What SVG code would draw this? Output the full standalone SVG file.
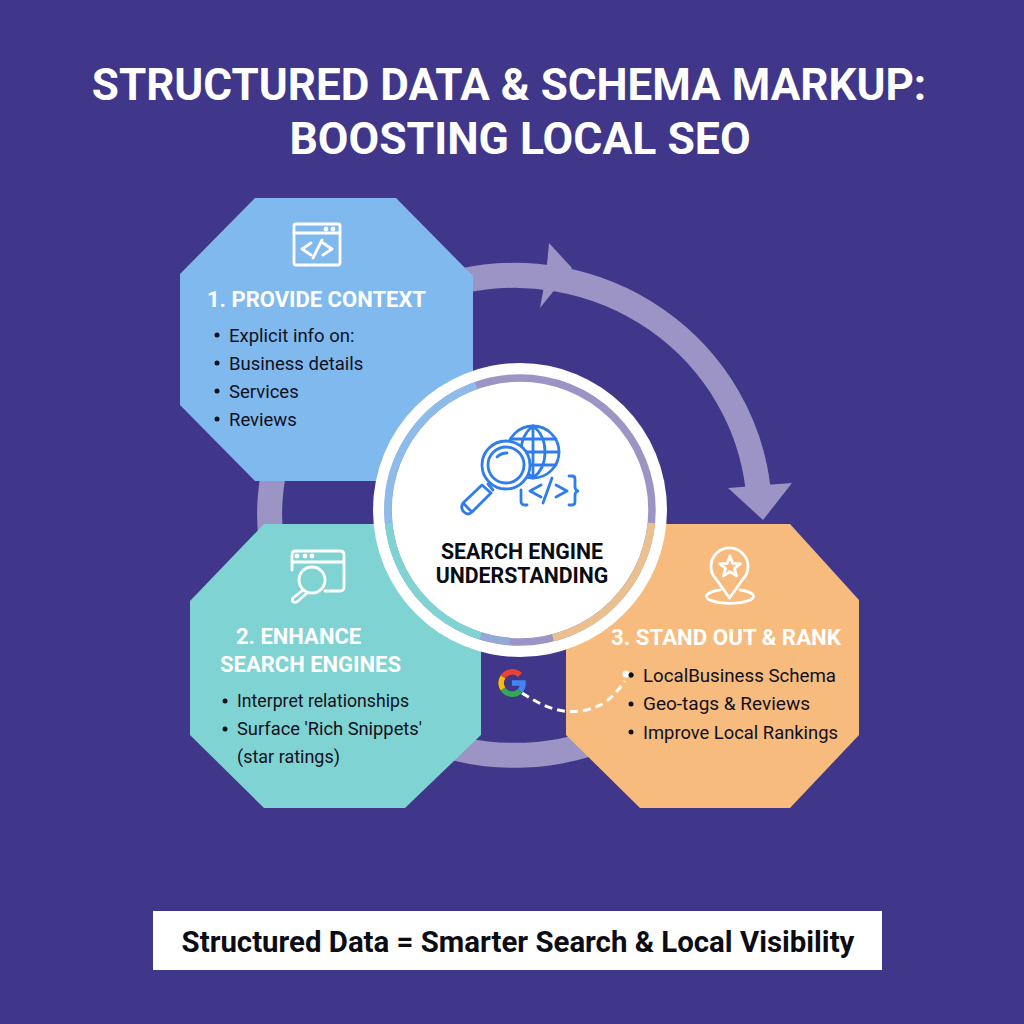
<svg xmlns="http://www.w3.org/2000/svg" width="1024" height="1024" viewBox="0 0 1024 1024">
<style>
text{font-family:Roboto,"Liberation Sans",sans-serif}
.title{font-size:44px;font-weight:700;fill:#fff;text-anchor:middle}
.h{font-size:22px;font-weight:700;fill:#fff}
.b{font-size:18.500px;fill:#10101c}
.dot{fill:#10101c}
.ci{fill:none;stroke:#fff;stroke-width:2.800;stroke-linecap:round;stroke-linejoin:round}
.bi{fill:none;stroke:#2f7ded;stroke-width:2.800;stroke-linecap:round;stroke-linejoin:round}
.c{font-size:21.300px;font-weight:700;fill:#0c0c14;text-anchor:middle}
</style>
<rect width="1024" height="1024" fill="#40368a"/>
<g id="title"><text class="title" x="509" y="100">STRUCTURED DATA &amp; SCHEMA MARKUP:</text><text class="title" x="520" y="154" font-size="44.500" style="font-size:44.500px">BOOSTING LOCAL SEO</text></g>
<g id="connectors">
<path d="M758 488A245 240 0 1 0 620 732" fill="none" stroke="#9c94c4" stroke-width="25"/>
<polygon points="549,243 572,268 540,308 546,275" fill="#9c94c4"/>
<polygon points="728,488 792,483 763,520" fill="#9c94c4"/>
</g>
<g id="node-context"><polygon points="255,198 396,198 473,276 473,405 396,481 255,481 180,405 180,274" fill="#80b9ee"/>
<g class="ci"><rect x="294" y="224" width="46" height="41" rx="2"/><path d="M294 233H340M311 243l-9 6 9 6M323 243l9 6-9 6M322 240l-9 18"/><circle cx="326" cy="229" r="1" fill="#fff"/><circle cx="333" cy="229" r="1" fill="#fff"/></g>
<text class="h" x="207" y="307">1. PROVIDE CONTEXT</text>
<circle class="dot" cx="217" cy="335" r="2.500"/><text class="b" x="229" y="342">Explicit info on:</text>
<circle class="dot" cx="217" cy="363" r="2.500"/><text class="b" x="229" y="370">Business details</text>
<circle class="dot" cx="217" cy="391" r="2.500"/><text class="b" x="229" y="398">Services</text>
<circle class="dot" cx="217" cy="419" r="2.500"/><text class="b" x="229" y="426">Reviews</text></g>
<g id="node-enhance"><polygon points="264,524 481,524 481,735 405,808 264,808 190,735 190,601" fill="#80d3d3"/>
<g class="ci"><path d="M292 570V555Q292 551 296 551H340Q344 551 344 555V587Q344 591 340 591H325M292 562H344"/><circle cx="312" cy="580" r="13"/><path d="M303 590L293 598Q291 602 294 602 296 603 298 601L307 593"/><circle cx="297" cy="556" r="1" fill="#fff"/><circle cx="305" cy="556" r="1" fill="#fff"/><circle cx="312" cy="556" r="1" fill="#fff"/></g>
<text class="h" x="236" y="644">2. ENHANCE</text><text class="h" x="220" y="672">SEARCH ENGINES</text>
<circle class="dot" cx="225" cy="701" r="2.500"/><text class="b" x="237" y="707" textLength="172" lengthAdjust="spacingAndGlyphs">Interpret relationships</text>
<circle class="dot" cx="225" cy="729" r="2.500"/><text class="b" x="237" y="735" textLength="185" lengthAdjust="spacingAndGlyphs">Surface 'Rich Snippets'</text>
<text class="b" x="237" y="763" textLength="103" lengthAdjust="spacingAndGlyphs">(star ratings)</text></g>
<g id="node-rank"><polygon points="566,524 790,524 859,600 859,735 790,808 640,808 566,735" fill="#f6bb7d"/>
<g class="ci"><path d="M729.500 598L716 579A18.500 18.500 0 1 1 743 579Z"/><path d="M730 556L732.700 563.300 740.500 563.600 734.400 568.400 736.500 575.900 730 571.600 723.500 575.900 725.600 568.400 719.500 563.600 727.300 563.300Z"/><path d="M720 590A23.500 7 0 1 0 740 590"/></g>
<text class="h" x="611" y="645" textLength="230" lengthAdjust="spacingAndGlyphs">3. STAND OUT &amp; RANK</text>
<circle class="dot" cx="631" cy="675" r="2.500"/><text class="b" x="643" y="682" textLength="193" lengthAdjust="spacingAndGlyphs">LocalBusiness Schema</text>
<circle class="dot" cx="631" cy="704" r="2.500"/><text class="b" x="643" y="710" textLength="167" lengthAdjust="spacingAndGlyphs">Geo-tags &amp; Reviews</text>
<circle class="dot" cx="631" cy="732" r="2.500"/><text class="b" x="643" y="739" textLength="195" lengthAdjust="spacingAndGlyphs">Improve Local Rankings</text></g>
<g id="node-center"><circle cx="520" cy="510" r="147" fill="#fff"/>
<g fill="none" stroke-width="7.500"><circle cx="520" cy="510" r="132" stroke="#9c94c4"/>
<path d="M476.200 385.500A132 132 0 0 0 388.600 523" stroke="#8dbbea"/>
<path d="M388.600 523A132 132 0 0 0 481 636" stroke="#80d3d3"/>
<path d="M481 636A132 132 0 0 0 510 641.600" stroke="#93a9d8"/>
<path d="M651.400 523A132 132 0 0 1 553 637.800" stroke="#ecbf8f"/></g>
<g class="bi"><circle cx="533" cy="452" r="26"/><path d="M533 426V478M511 439H556M507 452H559M511 465H556M533 426C517 438 517 466 533 478M533 426C549 438 549 466 533 478"/>
<circle cx="506" cy="465" r="24" fill="#fff"/><circle cx="506" cy="465" r="18"/><path d="M497 457Q501 453 507 453"/><path d="M488 484L493 490M482 485L463 503Q460 508 464 512 468 516 472 512L491 493ZM463 503L472 512"/></g>
<g class="bi"><path d="M541 485L530 491 541 497M552 478L543 503M556 485L567 491 556 497"/><path d="M569 476H572Q575 476 575 479V487Q575 490 578 491 575 492 575 495V502Q575 505 572 505H569"/><path d="M521 490V501Q521 505 525 505H527"/></g>
<text class="c" x="522" y="559">SEARCH ENGINE</text><text class="c" x="522" y="583">UNDERSTANDING</text></g>
<g id="connectors-dashed"><path d="M522 693C545 708 565 716 590 709 605 705 615 695 625 681" fill="none" stroke="#fff" stroke-width="3" stroke-dasharray="8 5"/><circle cx="626" cy="674" r="3.500" fill="#fff"/><circle class="dot" cx="631" cy="675" r="2.500"/></g>
<g id="google" fill="none" stroke-width="5.500"><path d="M520 675A11 11 0 0 0 503 677" stroke="#ea4335"/><path d="M503 677A11 11 0 0 0 503 689" stroke="#fbbc05"/><path d="M503 689A11 11 0 0 0 520 691" stroke="#34a853"/><path d="M520 691A11 11 0 0 0 523 683H512" stroke="#4285f4"/></g>
<g id="banner"><rect x="153" y="911" width="729" height="59" fill="#fff"/><text x="518" y="952" font-size="29.400" font-weight="700" fill="#0c0c14" text-anchor="middle">Structured Data = Smarter Search &amp; Local Visibility</text></g>
</svg>
